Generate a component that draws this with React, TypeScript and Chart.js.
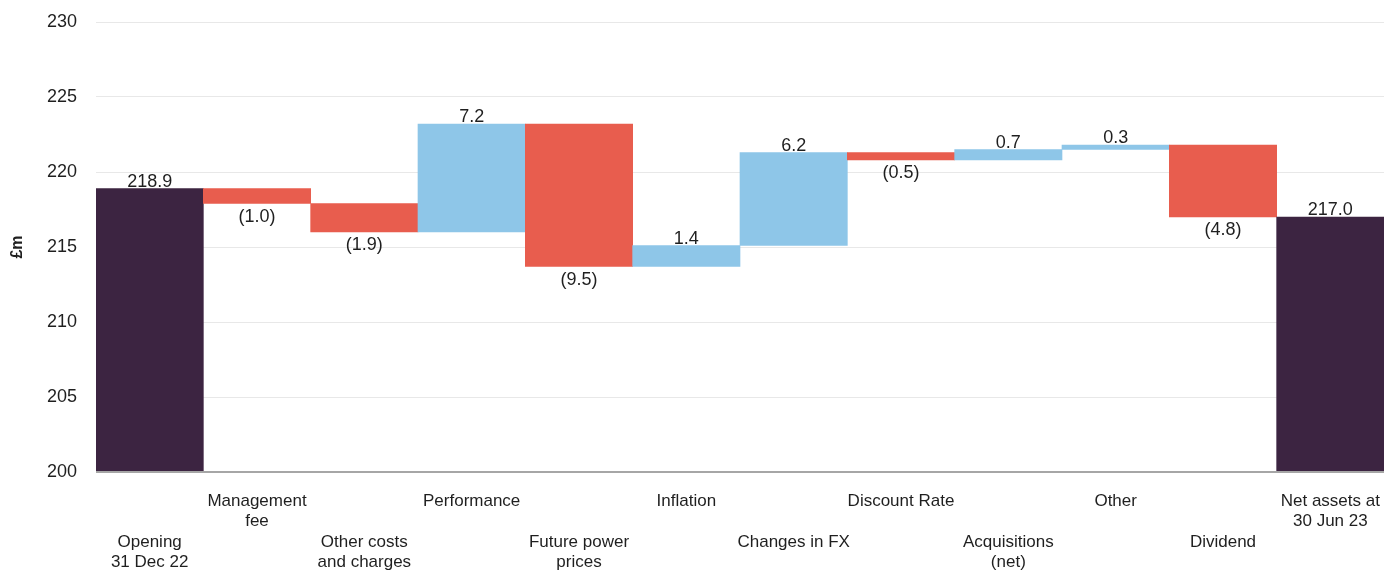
import React, { useEffect, useRef } from "react";
import { Chart, registerables } from "chart.js";

Chart.register(...registerables);

const categories: string[][] = [
  ["", "", "Opening", "31 Dec 22"],
  ["Management", "fee"],
  ["", "", "Other costs", "and charges"],
  ["Performance"],
  ["", "", "Future power", "prices"],
  ["Inflation"],
  ["", "", "Changes in FX"],
  ["Discount Rate"],
  ["", "", "Acquisitions", "(net)"],
  ["Other"],
  ["", "", "Dividend"],
  ["Net assets at", "30 Jun 23"],
];

const openingValue = 218.9;
const movements = [-1.0, -1.9, 7.2, -9.5, 1.4, 6.2, -0.5, 0.7, 0.3, -4.8];
const closingValue = 217.0;
const axisMin = 200;
const axisMax = 230;
const axisStep = 5;

const COLOR_TOTAL = "#3c2441";
const COLOR_NEG = "#e85d4e";
const COLOR_POS = "#8ec6e8";
const FONT = "Arial, 'Liberation Sans', sans-serif";

function buildBars() {
  const ranges: [number, number][] = [];
  const labels: string[] = [];
  const colors: string[] = [];
  const kinds: string[] = [];
  ranges.push([axisMin, openingValue]);
  labels.push(openingValue.toFixed(1));
  colors.push(COLOR_TOTAL);
  kinds.push("total");
  let running = openingValue;
  movements.forEach((m) => {
    const start = running;
    const end = Math.round((running + m) * 10) / 10;
    ranges.push([start, end]);
    labels.push(m < 0 ? `(${Math.abs(m).toFixed(1)})` : m.toFixed(1));
    colors.push(m < 0 ? COLOR_NEG : COLOR_POS);
    kinds.push(m < 0 ? "neg" : "pos");
    running = end;
  });
  ranges.push([axisMin, closingValue]);
  labels.push(closingValue.toFixed(1));
  colors.push(COLOR_TOTAL);
  kinds.push("total");
  return { ranges, labels, colors, kinds };
}

export default function App() {
  const ref = useRef<HTMLCanvasElement | null>(null);

  useEffect(() => {
    if (!ref.current) return;
    const { ranges, labels, colors, kinds } = buildBars();

    const valueLabels = {
      id: "valueLabels",
      afterDatasetsDraw(chart: any) {
        const ctx = chart.ctx;
        const meta = chart.getDatasetMeta(0);
        const y = chart.scales.y;
        ctx.save();
        const yb = Math.round(y.getPixelForValue(axisMin));
        ctx.strokeStyle = "#a6a6a6";
        ctx.lineWidth = 2;
        ctx.beginPath();
        ctx.moveTo(chart.chartArea.left, yb);
        ctx.lineTo(chart.chartArea.right, yb);
        ctx.stroke();

        ctx.fillStyle = "#1f1f1f";
        ctx.font = `18px ${FONT}`;
        ctx.textAlign = "center";
        meta.data.forEach((bar: any, i: number) => {
          const [a, b] = ranges[i];
          const top = y.getPixelForValue(Math.max(a, b));
          const bottom = y.getPixelForValue(Math.min(a, b));
          if (kinds[i] === "neg") {
            ctx.textBaseline = "top";
            ctx.fillText(labels[i], bar.x, bottom + 4.5);
          } else {
            ctx.textBaseline = "alphabetic";
            ctx.fillText(labels[i], bar.x, top - 2);
          }
        });
        ctx.restore();
      },
    };

    const chart = new Chart(ref.current, {
      type: "bar",
      data: {
        labels: categories as any,
        datasets: [
          {
            data: ranges as any,
            backgroundColor: colors,
            borderWidth: 0,
            barPercentage: 1,
            categoryPercentage: 1,
          },
        ],
      },
      options: {
        animation: false,
        responsive: false,
        layout: { padding: { top: 22, right: 3, bottom: 0, left: 0 } },
        plugins: {
          legend: { display: false },
          tooltip: { enabled: false },
        },
        scales: {
          x: {
            grid: { display: false, drawTicks: false },
            border: { display: false },
            ticks: {
              color: "#1f1f1f",
              font: { family: FONT, size: 17, lineHeight: 1.2 },
              padding: 19,
              maxRotation: 0,
              autoSkip: false,
            },
            afterFit: (s: any) => {
              s.height = 100;
              s.paddingLeft = 0;
              s.paddingRight = 0;
              s.paddingTop = 0;
              s.paddingBottom = 0;
            },
          },
          y: {
            min: axisMin,
            max: axisMax,
            grid: { color: "#e8e8e8", lineWidth: 1, drawTicks: false },
            border: { display: false },
            ticks: {
              stepSize: axisStep,
              color: "#1f1f1f",
              font: { family: FONT, size: 18 },
              padding: 19,
            },
            title: {
              display: true,
              text: "£m",
              color: "#1f1f1f",
              font: { family: FONT, size: 16, weight: "bold" },
              padding: { top: 8, bottom: 0 },
            },
            afterFit: (s: any) => {
              s.width = 96;
              s.paddingLeft = 0;
              s.paddingRight = 0;
              s.paddingTop = 0;
              s.paddingBottom = 0;
            },
          },
        },
      },
      plugins: [valueLabels],
    });
    return () => chart.destroy();
  }, []);

  return (
    <div style={{ position: "absolute", left: 0, top: 0, width: 1387, height: 572, background: "#fff" }}>
      <canvas ref={ref} width={1387} height={572} style={{ display: "block" }} />
    </div>
  );
}
